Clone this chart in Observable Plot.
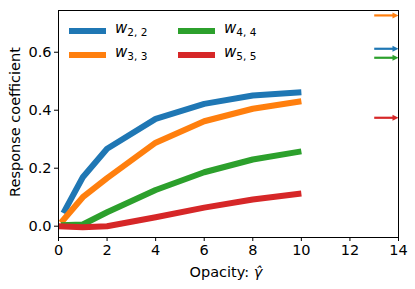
<!DOCTYPE html>
<html><head><meta charset="utf-8">
<script src="https://cdn.jsdelivr.net/npm/d3@7"></script>
<script src="https://cdn.jsdelivr.net/npm/@observablehq/plot@0.6"></script>
<style>
body{margin:0;background:#fff;font-family:"DejaVu Sans",sans-serif;}
#wrap{position:relative;width:415px;height:289px;}
.lab{position:absolute;font-size:14.5px;color:#000;white-space:nowrap;}
.leg{position:absolute;font-size:15px;}
.leg .sw{position:absolute;height:6px;width:37px;}
.leg .tx{position:absolute;white-space:nowrap;}
sub{font-size:10.5px;vertical-align:-3px;}
</style></head>
<body><div id="wrap"></div>
<script>
const seriesNames = ["w2,2","w3,3","w4,4","w5,5"];
const colors = ["#1f77b4","#ff7f0e","#2ca02c","#d62728"];
const xBlue = [0.2,1,2,4,6,8,10];
const yBlue = [0.045,0.169,0.267,0.370,0.422,0.451,0.462];
const xOrange = [0.1,1,2,4,6,8,10];
const yOrange = [0.012,0.10,0.166,0.288,0.362,0.405,0.431];
const xGreen = [0.1,1,2,4,6,8,10];
const yGreen = [0.003,0.006,0.048,0.125,0.186,0.230,0.258];
const xRed = [0,1,2,4,6,8,10];
const yRed = [0.0,-0.004,0.0,0.031,0.064,0.092,0.113];
const arrowY = [0.612,0.727,0.581,0.374];
const xTicks = [0,2,4,6,8,10,12,14];
const yTicks = [0,0.2,0.4,0.6];

const xs=[xBlue,xOrange,xGreen,xRed], ys=[yBlue,yOrange,yGreen,yRed];
const rows=[];
xs.forEach((xa,i)=>xa.forEach((x,j)=>rows.push({s:seriesNames[i],x,y:ys[i][j]})));
const arrows=arrowY.map((y,i)=>({s:seriesNames[i],y}));

const headSymbol={draw(ctx){ctx.moveTo(0,0);ctx.lineTo(-6,-3);ctx.lineTo(-6,3);ctx.closePath();}};

const W=415,H=289,mL=58,mR=17,mT=10,mB=52;
const plot=Plot.plot({
  width:W,height:H,marginLeft:mL,marginRight:mR,marginTop:mT,marginBottom:mB,
  style:{fontFamily:"DejaVu Sans",fontSize:"14.5px",color:"#000",background:"#fff"},
  x:{domain:[0,14]},
  y:{domain:[-0.039,0.744]},
  color:{domain:seriesNames,range:colors},
  marks:[
    Plot.axisX({ticks:xTicks,tickSize:4,tickPadding:3,label:null,tickFormat:d3.format("d"),fontSize:14.5}),
    Plot.axisY({ticks:yTicks,tickSize:4,tickPadding:3,label:null,tickFormat:d3.format(".1f"),fontSize:14.5}),
    Plot.line(rows,{x:"x",y:"y",z:"s",stroke:"s",strokeWidth:6,strokeLinecap:"butt",strokeLinejoin:"round"}),
    Plot.link(arrows,{x1:()=>13,x2:()=>13.8,y1:"y",y2:"y",stroke:"s",strokeWidth:2.2}),
    Plot.dot(arrows,{x:()=>14,y:"y",fill:"s",stroke:null,symbol:headSymbol}),
    Plot.frame({stroke:"#000",strokeWidth:1})
  ]
});
const wrap=document.getElementById("wrap");
wrap.appendChild(plot);

function addLab(html,x,y,rot){
  const d=document.createElement("div");d.className="lab";d.innerHTML=html;
  d.style.left=x+"px";d.style.top=y+"px";
  d.style.transform=(rot?"translate(-50%,-50%) rotate(-90deg)":"translate(-50%,-50%)");
  wrap.appendChild(d);
}
addLab('Opacity: <i>γ̂</i>',226,272,false);
addLab('Response coefficient',15,122,true);

const legPos=[[69,31],[69,55],[178,31],[178,55]];
const legText=['<i>w</i><sub>2, 2</sub>','<i>w</i><sub>3, 3</sub>','<i>w</i><sub>4, 4</sub>','<i>w</i><sub>5, 5</sub>'];
legPos.forEach(([x,y],i)=>{
  const g=document.createElement("div");g.className="leg";g.style.left=x+"px";g.style.top=y+"px";
  g.innerHTML=`<div class="sw" style="background:${colors[i]};left:0;top:-3px"></div><div class="tx" style="left:46px;top:-12px">${legText[i]}</div>`;
  wrap.appendChild(g);
});
</script></body></html>
